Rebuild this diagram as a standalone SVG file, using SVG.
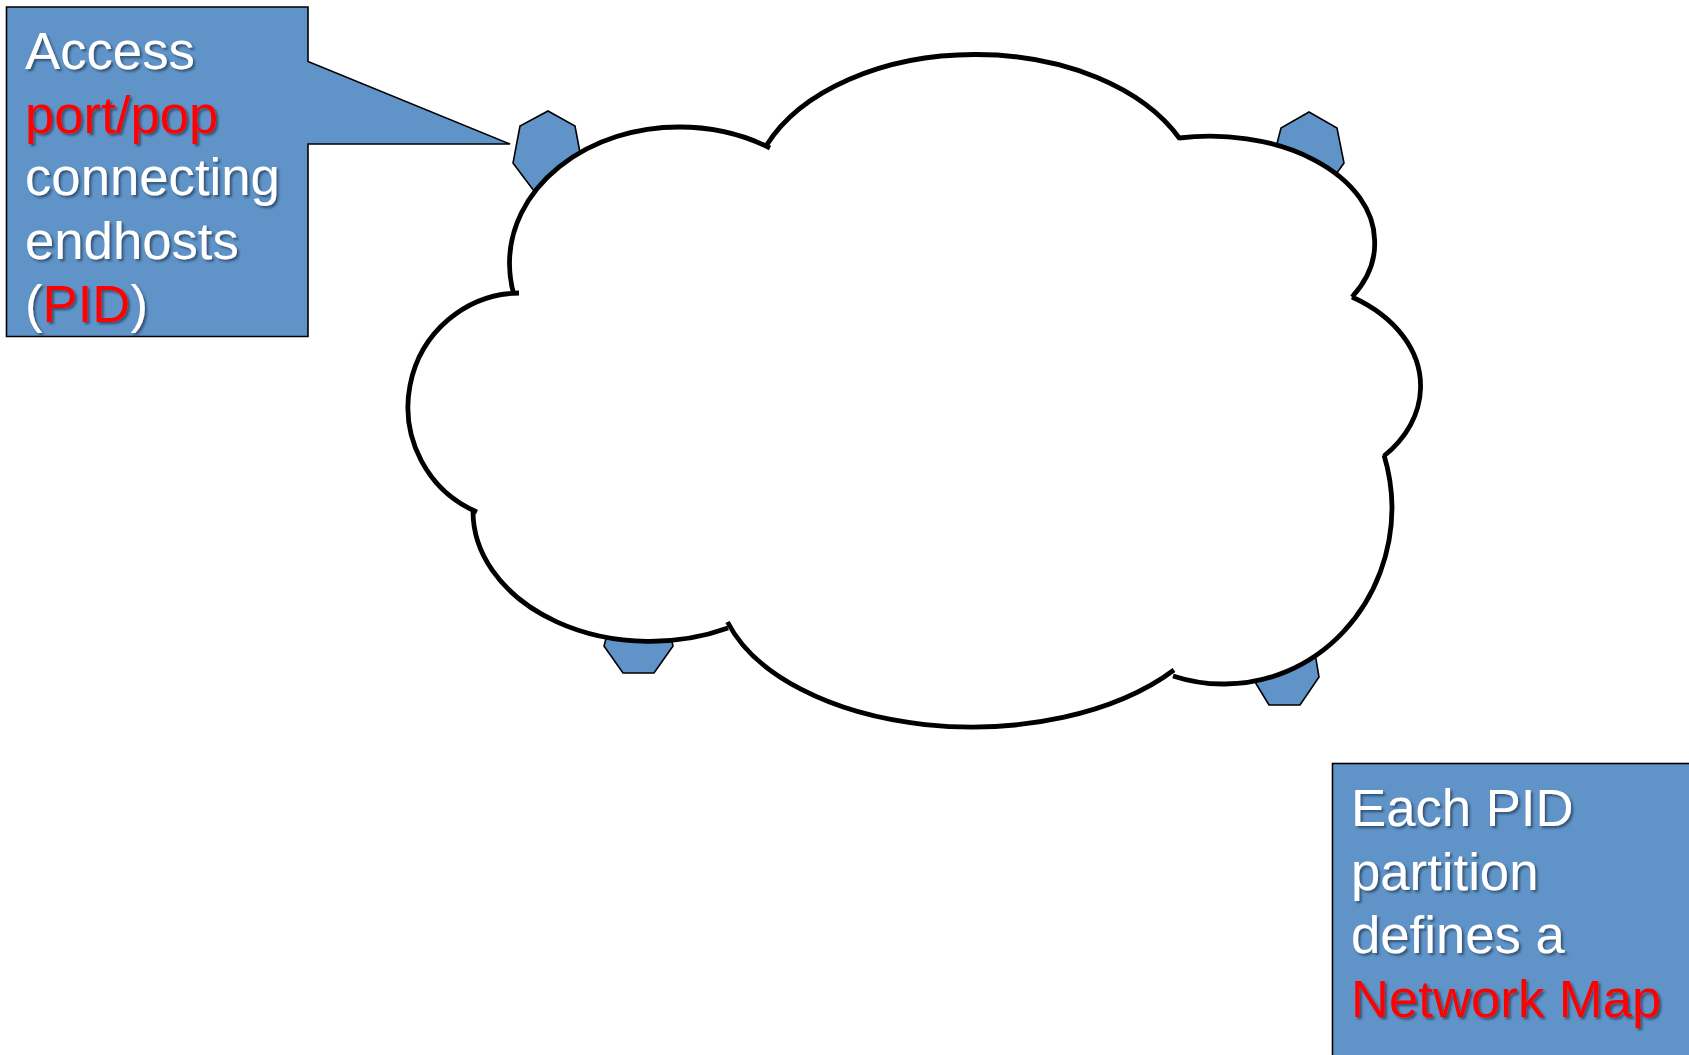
<svg xmlns="http://www.w3.org/2000/svg" width="1689" height="1055" viewBox="0 0 1689 1055">
  <defs>
    <filter id="shadow" x="-10%" y="-10%" width="125%" height="130%">
      <feDropShadow dx="2.2" dy="2.2" stdDeviation="1.2" flood-color="#1a2f4a" flood-opacity="0.65"/>
    </filter>
  </defs>
  <style>
    .blue { fill: #6094C8; stroke: #000; stroke-width: 1.6; stroke-linejoin: miter; }
    .lobes { fill: none; stroke: #000; stroke-width: 4.8; }
    .label { font-family: "Liberation Sans", Arial, sans-serif; font-size: 52.7px; fill: #fff; filter: url(#shadow); }
    .red { fill: #f00; }
  </style>
  <rect width="1689" height="1055" fill="#fff"/>
  <g id="pop-top-left"><polygon class="blue" points="548,111 575,126 582,163 561,191 534,191 513,163 520,126"/></g>
  <g id="pop-top-right"><polygon class="blue" points="1309,112 1337,128 1344,163 1324,191 1298,191 1272,163 1281,128"/></g>
  <g id="pop-bottom-right"><polygon class="blue" points="1285,627 1313,641 1319,677 1300,705 1269,705 1252,677 1256,641"/></g>
  <g id="pop-bottom-left"><polygon class="blue" points="639,610 667,620 673,646 654,673 623,673 604,646 611,620"/></g>
  <g id="cloud">
    <path fill="#fff" stroke="none" d="M514,295 A169.5,136 0 0 1 509.5,263 A169.5,136 0 0 1 679,127 A169.5,136 0 0 1 770,148 L766,146 A225,146 0 0 1 975,54.5 A225,146 0 0 1 1180,139 A164.6,105.4 0 0 1 1374.6,240 A164.6,105.4 0 0 1 1352,297 A147,105 0 0 1 1420.5,389 A147,105 0 0 1 1384,456 A167,177 0 0 1 1392,507 A167,177 0 0 1 1225,684 A167,177 0 0 1 1173,676 L1174,670 A254.6,145.7 0 0 1 727.5,622 L728,628 A177,130 0 0 1 473,511 L477,512 A113,114 0 0 1 519,293 Z"/>
    <path class="lobes" d="M514,295 A169.5,136 0 0 1 509.5,263 A169.5,136 0 0 1 679,127 A169.5,136 0 0 1 770,148 M766,146 A225,146 0 0 1 975,54.5 A225,146 0 0 1 1180,139 M1179,138 A164.6,105.4 0 0 1 1374.6,240 A164.6,105.4 0 0 1 1352,297 M1352,297 A147,105 0 0 1 1420.5,389 A147,105 0 0 1 1384,456 M1384,455 A167,177 0 0 1 1392,507 A167,177 0 0 1 1225,684 A167,177 0 0 1 1173,676 M1174,670 A254.6,145.7 0 0 1 727.5,622 M728,628 A177,130 0 0 1 473,511 M477,512 A113,114 0 0 1 519,293"/>
  </g>
  <g id="callout-access">
    <path class="blue" d="M6.5,7 H308 V61.5 L510,144 L308,144 V336.5 H6.5 Z"/>
    <text class="label" x="25" y="68.5">Access</text>
    <text class="label red" x="25" y="132.5">port/pop</text>
    <text class="label" x="25" y="195">connecting</text>
    <text class="label" x="25" y="258.5">endhosts</text>
    <text class="label" x="25" y="322">(<tspan class="red">PID</tspan>)</text>
  </g>
  <g id="note-network-map">
    <rect class="blue" x="1332.5" y="763.5" width="370" height="310"/>
    <text class="label" x="1351" y="826">Each PID</text>
    <text class="label" x="1351" y="889.5">partition</text>
    <text class="label" x="1351" y="953">defines a</text>
    <text class="label red" x="1351" y="1016.5">Network Map</text>
  </g>
  <g id="connectors"></g>
</svg>
